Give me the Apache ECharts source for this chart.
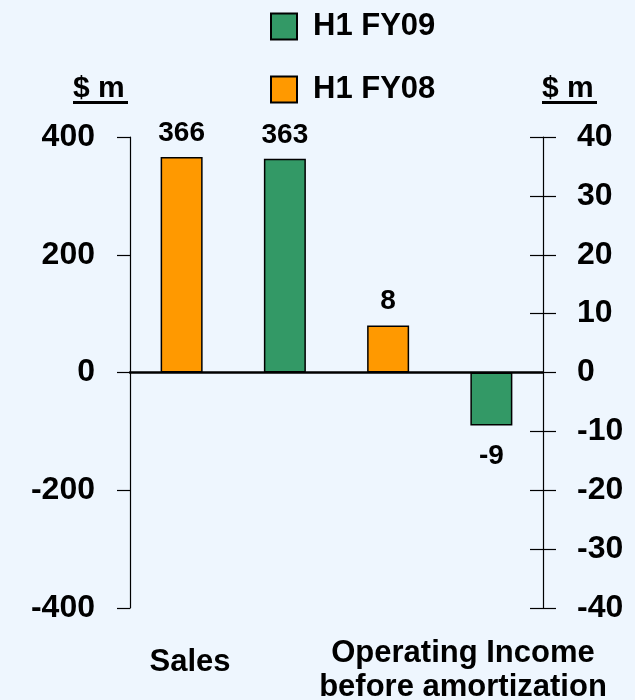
<!DOCTYPE html>
<html>
<head>
<meta charset="utf-8">
<script src="https://cdn.jsdelivr.net/npm/echarts@6/dist/echarts.min.js"></script>
<style>
  html, body { margin: 0; padding: 0; background: #eef6fe; }
  #chart { width: 635px; height: 700px; }
</style>
</head>
<body>
<div id="chart"></div>
<script>
// ── Data ──────────────────────────────────────────────────────────────────────
// four bar slots: Sales FY08, Sales FY09, Op. income FY08, Op. income FY09
const slots = ['salesFY08', 'salesFY09', 'oiFY08', 'oiFY09'];
const groupLabels = ['Sales', 'Operating Income\nbefore amortization'];
const salesValues = [366, 363];     // H1 FY08, H1 FY09  ($ m, left axis)
const incomeValues = [8, -9];       // H1 FY08, H1 FY09  ($ m, right axis)
const leftTicks = { min: -400, max: 400, interval: 200 };
const rightTicks = { min: -40, max: 40, interval: 10 };

const ORANGE = '#ff9900';
const GREEN = '#339966';
const FONT = '"Liberation Sans", Arial, sans-serif';

// place one value in its slot, '-' everywhere else
function inSlot(idx, value) {
  return slots.map((_, i) => (i === idx ? value : '-'));
}

const labelStyle = {
  show: true,
  position: 'top',
  distance: 10,
  color: '#000',
  fontFamily: FONT,
  fontWeight: 'bold',
  fontSize: 28,
};

function barSeries(name, color, yAxisIndex, data) {
  return {
    name,
    type: 'bar',
    yAxisIndex,
    data,
    barWidth: 42,
    barGap: '-100%',
    itemStyle: { color, borderColor: '#000', borderWidth: 1.5 },
    label: labelStyle,
  };
}

const negLabel = { position: 'bottom', distance: 17 };

const tickLabel = {
  color: '#000',
  fontFamily: FONT,
  fontWeight: 'bold',
  fontSize: 32,
};

const chart = echarts.init(document.getElementById('chart'), null, { renderer: 'canvas' });

chart.setOption({
  backgroundColor: '#eef6fe',
  animation: false,
  textStyle: { fontFamily: FONT },
  grid: { left: 130, right: 92, top: 137, bottom: 92 },
  legend: {
    data: ['H1 FY09', 'H1 FY08'],
    orient: 'vertical',
    left: 265,
    top: 6,
    icon: 'rect',
    itemWidth: 26,
    itemHeight: 26,
    itemGap: 32,
    selectedMode: false,
    textStyle: {
      color: '#000', fontFamily: FONT, fontWeight: 'bold', fontSize: 31,
      padding: [0, 0, 0, 11],
    },
  },
  xAxis: {
    type: 'category',
    data: slots,
    axisLine: { onZero: true, lineStyle: { color: '#000', width: 2.5 } },
    axisTick: { show: false },
    axisLabel: { show: false },
    splitLine: { show: false },
  },
  yAxis: [
    {
      type: 'value',
      position: 'left',
      ...leftTicks,
      axisLine: { show: true, lineStyle: { color: '#000', width: 1.2 } },
      axisTick: { show: true, length: 13, lineStyle: { color: '#000', width: 1.2 } },
      axisLabel: { ...tickLabel, margin: 35 },
      splitLine: { show: false },
    },
    {
      type: 'value',
      position: 'right',
      ...rightTicks,
      axisLine: { show: true, lineStyle: { color: '#000', width: 1.2 } },
      axisTick: { show: true, length: 13, lineStyle: { color: '#000', width: 1.2 } },
      axisLabel: { ...tickLabel, margin: 34 },
      splitLine: { show: false },
    },
    {
      // inner half of the crossing ticks on the right axis
      type: 'value',
      position: 'right',
      ...rightTicks,
      axisLine: { show: false },
      axisTick: { show: true, inside: true, length: 13, lineStyle: { color: '#000', width: 1.2 } },
      axisLabel: { show: false },
      splitLine: { show: false },
    },
  ],
  series: [
    barSeries('H1 FY08', ORANGE, 0, inSlot(0, salesValues[0])),
    barSeries('H1 FY09', GREEN, 0, inSlot(1, salesValues[1])),
    barSeries('H1 FY08', ORANGE, 1, inSlot(2, incomeValues[0])),
    barSeries('H1 FY09', GREEN, 1,
      inSlot(3, incomeValues[1]).map(v => (v === '-' ? v : { value: v, label: negLabel }))),
  ],
  graphic: [
    // axis unit captions
    { type: 'text', left: 73, top: 74,
      style: { text: '$ m', fill: '#000', font: 'bold 30px ' + FONT } },
    { type: 'rect', shape: { x: 73, y: 101, width: 55, height: 3 }, style: { fill: '#000' } },
    { type: 'text', left: 542, top: 74,
      style: { text: '$ m', fill: '#000', font: 'bold 30px ' + FONT } },
    { type: 'rect', shape: { x: 542, y: 101, width: 55, height: 3 }, style: { fill: '#000' } },
    // group captions below the plot
    { type: 'text', x: 190, y: 662,
      style: { text: groupLabels[0], fill: '#000', font: 'bold 31px ' + FONT,
        align: 'center', verticalAlign: 'middle' } },
    { type: 'text', x: 463, y: 670,
      style: { text: groupLabels[1], fill: '#000', font: 'bold 31px ' + FONT,
        align: 'center', verticalAlign: 'middle', lineHeight: 34 } },
  ],
});
</script>
</body>
</html>
